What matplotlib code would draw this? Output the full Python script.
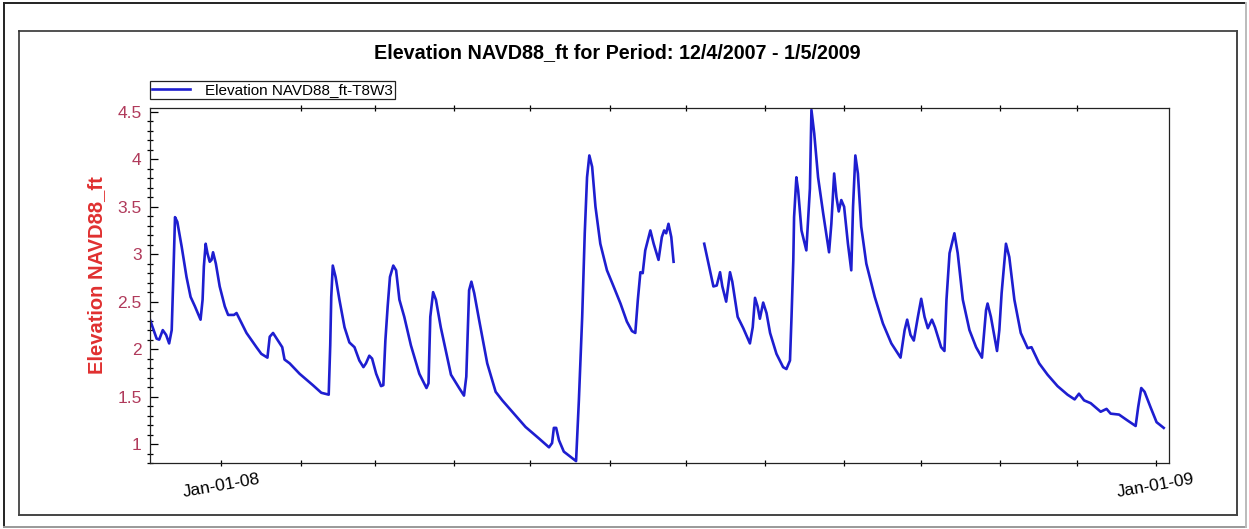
"""
Elevation NAVD88_ft, Messstelle T8W3, Zeitraum 12/4/2007 - 1/5/2009
Werte vom Bild abgelesen (Tage seit dem 4.12.2007)
"""
import matplotlib
matplotlib.use('Agg')
import matplotlib.pyplot as plt
import matplotlib.dates as mdates
from matplotlib.ticker import MultipleLocator, FuncFormatter
from matplotlib.lines import Line2D
import numpy as np
import pandas as pd

plt.rcParams['font.family'] = ['Liberation Sans', 'DejaVu Sans']

start = pd.Timestamp('2007-12-04')
end = pd.Timestamp('2009-01-06 04:00')

# erster Abschnitt (vor der Datenluecke)
days1 = [0.0, 2.6, 3.6, 5.0, 6.3, 7.5, 8.5, 9.1, 9.8, 10.7, 12.4, 14.3, 15.9, 17.6,
         19.8, 20.6, 21.1, 21.8, 22.5, 23.4, 24.1, 24.7, 25.8, 27.3, 29.3, 30.6,
         32.9, 33.9, 35.2, 37.8, 41.7, 43.6, 46.0, 46.9, 48.2, 50.1, 51.8, 52.7,
         54.7, 58.6, 63.8, 67.1, 70.0, 70.6, 71.0, 71.6, 72.7, 74.2, 76.2, 78.1,
         80.1, 82.0, 83.6, 84.6, 85.9, 87.0, 88.6, 90.5, 91.4, 92.2, 93.1, 94.0,
         95.3, 96.4, 97.7, 99.6, 102.2, 105.5, 108.3, 109.1, 109.8, 110.9, 112.0,
         113.9, 117.9, 121.1, 123.0, 123.9, 125.0, 125.9, 127.0, 128.9, 132.1,
         135.4, 138.0, 141.9, 147.1, 152.3, 156.3, 157.5, 158.2, 159.1, 160.2,
         162.1, 166.9, 168.0, 169.3, 170.3, 171.2, 172.1, 173.2, 174.5, 176.4,
         179.0, 181.6, 184.3, 186.8, 188.8, 190.1, 191.1, 192.1, 193.0, 194.0,
         196.0, 197.3, 199.2, 200.5, 201.4, 202.2, 203.1, 204.2, 205.1]
elev1 = [2.31, 2.11, 2.10, 2.20, 2.15, 2.06, 2.20, 2.73, 3.39, 3.34, 3.08, 2.76, 2.55, 2.45,
         2.31, 2.52, 2.87, 3.11, 3.01, 2.92, 2.94, 3.02, 2.90, 2.66, 2.45, 2.36,
         2.36, 2.38, 2.31, 2.17, 2.02, 1.95, 1.91, 2.13, 2.17, 2.09, 2.02, 1.89,
         1.85, 1.74, 1.62, 1.54, 1.52, 2.04, 2.55, 2.88, 2.76, 2.52, 2.23, 2.07,
         2.02, 1.88, 1.81, 1.85, 1.93, 1.90, 1.74, 1.61, 1.62, 2.09, 2.45, 2.76,
         2.88, 2.83, 2.52, 2.34, 2.04, 1.74, 1.59, 1.64, 2.34, 2.60, 2.52,
         2.23, 1.73, 1.59, 1.51, 1.71, 2.62, 2.71, 2.59, 2.31, 1.85,
         1.55, 1.46, 1.34, 1.18, 1.06, 0.965, 1.01, 1.17, 1.17, 1.04,
         0.92, 0.82, 1.46, 2.34, 3.22, 3.81, 4.04, 3.92, 3.50, 3.11,
         2.83, 2.66, 2.48, 2.29, 2.19, 2.17, 2.52, 2.81, 2.80, 3.04,
         3.25, 3.11, 2.94, 3.18, 3.25, 3.22, 3.32, 3.18, 2.92]

# zweiter Abschnitt (nach der Datenluecke)
days2 = [217.1, 218.8, 220.7, 222.0, 223.3, 224.2, 225.7, 227.2, 228.1, 230.2, 232.4,
         235.0, 236.1, 237.0, 238.0, 238.9, 240.2, 241.5, 242.9, 245.4, 248.0, 249.3,
         250.7, 251.3, 252.0, 252.3, 253.2, 253.9, 255.2, 257.1, 258.5, 259.1, 260.2,
         261.7, 263.7, 266.0, 266.9, 268.0, 268.9, 269.8, 270.8, 271.9, 273.4, 274.7,
         275.4, 276.3, 277.3, 278.6, 280.6, 283.9, 287.1, 290.4, 294.0, 295.6, 296.6,
         297.9, 299.2, 300.8, 302.1, 303.4, 304.7, 306.3, 307.5, 309.9, 311.2, 312.0,
         313.2, 315.1, 316.4, 318.4, 321.0, 323.6, 325.9, 327.5, 328.1, 329.4, 331.8,
         332.7, 333.6, 335.3, 336.6, 338.6, 341.1, 343.8, 345.3, 348.3, 351.6, 355.5,
         359.4, 362.2, 363.9, 365.9, 368.5, 372.4, 374.7, 376.3, 379.6, 382.8, 386.1,
         387.1, 388.3, 389.6, 391.9, 394.3, 397.1]
elev2 = [3.11, 2.90, 2.66, 2.67, 2.81, 2.66, 2.50, 2.81, 2.71, 2.34, 2.22,
         2.06, 2.23, 2.54, 2.45, 2.32, 2.49, 2.38, 2.17, 1.95, 1.81, 1.79,
         1.88, 2.34, 2.94, 3.39, 3.81, 3.67, 3.25, 3.04, 3.69, 4.52, 4.27,
         3.81, 3.43, 3.02, 3.32, 3.85, 3.60, 3.45, 3.57, 3.50, 3.11, 2.83,
         3.50, 4.04, 3.85, 3.29, 2.90, 2.55, 2.27, 2.06, 1.91, 2.20, 2.31,
         2.15, 2.09, 2.34, 2.53, 2.34, 2.22, 2.31, 2.23, 2.02, 1.98, 2.52,
         3.01, 3.22, 3.01, 2.52, 2.20, 2.02, 1.91, 2.41, 2.48, 2.34, 1.98,
         2.20, 2.59, 3.11, 2.97, 2.52, 2.17, 2.01, 2.02, 1.85, 1.73, 1.61,
         1.52, 1.47, 1.53, 1.46, 1.43, 1.34, 1.37, 1.32, 1.31, 1.25, 1.19,
         1.39, 1.59, 1.55, 1.39, 1.23, 1.17]

# Luecke als NaN, damit die Linie unterbrochen wird
days = np.concatenate([days1, [(days1[-1] + days2[0]) / 2], days2])
elev = np.concatenate([elev1, [np.nan], elev2])
dates = start + pd.to_timedelta(days, unit='D')

W, H = 1249, 529
fig = plt.figure(figsize=(W / 100, H / 100), dpi=100)
fig.patch.set_facecolor('white')

def px(x, y):
    return x / W, 1 - y / H

# Rahmen um das Bild
for (x0, y0, x1, y1, c, lw) in [(4, 3, 1245, 3, '#222222', 1.4), (4, 3, 4, 527, '#222222', 1.4),
                                  (4, 527, 1246, 527, '#999999', 1.4), (1246, 3, 1246, 527, '#bbbbbb', 1.4),
                                  (19, 31, 1237, 31, '#333333', 1.2), (19, 31, 19, 515, '#333333', 1.2),
                                  (19, 515, 1237, 515, '#444444', 1.4), (1237, 31, 1237, 515, '#444444', 1.4)]:
    a, b = px(x0, y0)
    c2, d = px(x1, y1)
    fig.add_artist(Line2D([a, c2], [b, d], color=c, lw=lw, transform=fig.transFigure))

l, t = px(150, 108)
r, b = px(1169, 463)
ax = fig.add_axes([l, b, r - l, t - b])

ax.plot(dates, elev, color='#1e1ed0', lw=1.9, label='Elevation NAVD88_ft-T8W3')

ax.set_xlim(start, end)
ax.set_ylim(0.8, 4.54)

ax.xaxis.set_major_locator(mdates.YearLocator())
ax.xaxis.set_major_formatter(mdates.DateFormatter('%b-%d-%y'))
ax.xaxis.set_minor_locator(mdates.MonthLocator())
ax.yaxis.set_major_locator(MultipleLocator(0.5))
ax.yaxis.set_minor_locator(MultipleLocator(0.1))
ax.yaxis.set_major_formatter(FuncFormatter(lambda v, p: '%g' % v))

for lab in ax.get_xticklabels():
    lab.set_rotation(10)
    lab.set_ha('center')

ax.tick_params(axis='x', which='major', direction='inout', length=4.5, width=0.9,
               labelsize=12.5, pad=4, top=False)
ax.tick_params(axis='x', which='minor', direction='inout', length=4.5, width=0.9,
               top=True, bottom=True)
ax.tick_params(axis='y', which='major', direction='in', length=5.5, width=0.9,
               labelsize=12.5, labelcolor='#b03a5b', pad=6, right=False)
ax.tick_params(axis='y', which='minor', direction='inout', length=4.5, width=0.9, right=False)

for s in ax.spines.values():
    s.set_linewidth(0.9)
    s.set_color('#222222')

ax.set_ylabel('Elevation NAVD88_ft', color='#e03030', fontsize=14.5,
              fontweight='bold', va='center')
ax.yaxis.set_label_coords(-0.052, 0.53)

tx, ty = px(617, 53)
fig.text(tx, ty, 'Elevation NAVD88_ft for Period: 12/4/2007 - 1/5/2009',
         ha='center', va='center', fontsize=14.2, fontweight='bold')

lx, ly = px(150, 99)
leg = ax.legend(loc='lower left', bbox_to_anchor=(lx, ly), bbox_transform=fig.transFigure,
                borderaxespad=0, fancybox=False, framealpha=1, edgecolor='#222222',
                fontsize=11, handlelength=2.5, borderpad=0.12, handletextpad=1.0)
leg.get_frame().set_linewidth(0.9)

fig.savefig('out.png', dpi=100)
